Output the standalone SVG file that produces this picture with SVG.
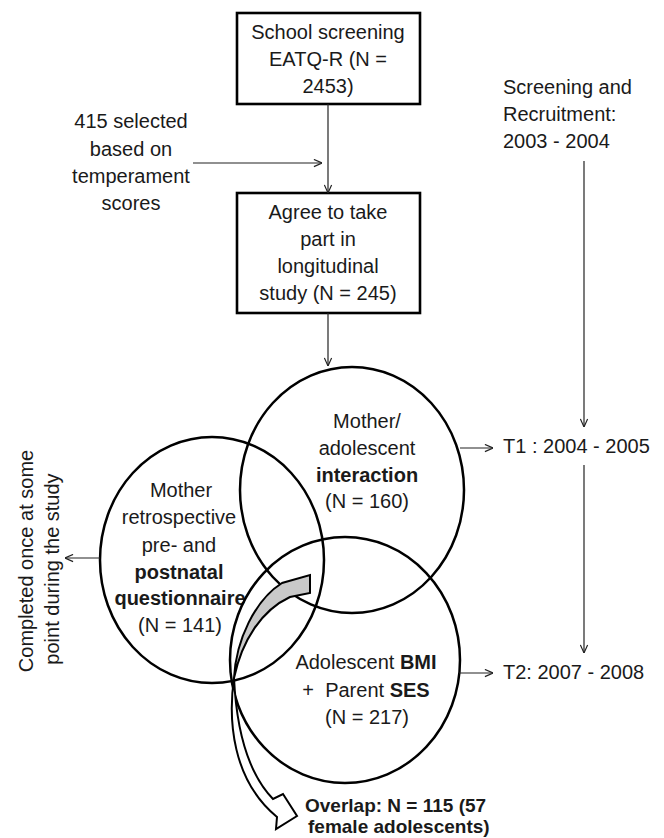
<svg xmlns="http://www.w3.org/2000/svg" width="664" height="838" viewBox="0 0 664 838">
<defs>
<style>
text{font-family:"Liberation Sans",Arial,sans-serif;font-size:20px;fill:#1a1a1a}
.c{text-anchor:middle}
.b{font-weight:bold}
.ov{font-weight:bold;font-size:19px}
.box{fill:#fff;stroke:#000;stroke-width:2.6}
.ell{fill:none;stroke:#000;stroke-width:2.5}
.con{fill:none;stroke:#222;stroke-width:1.2;marker-end:url(#arr)}
</style>
<marker id="arr" viewBox="0 0 10 10" refX="10" refY="5" markerWidth="9" markerHeight="9" markerUnits="userSpaceOnUse" orient="auto">
<path d="M1,1 L10,5 L1,9" fill="none" stroke="#222" stroke-width="1.3"/>
</marker>
</defs>
<rect width="664" height="838" fill="#fff"/>

<g id="circle-questionnaire">
<ellipse class="ell" cx="212" cy="560" rx="112" ry="123"/>
<text class="c" x="181" y="497">Mother</text>
<text class="c" x="179" y="524">retrospective</text>
<text class="c" x="179" y="552">pre- and</text>
<text class="c b" x="179" y="579">postnatal</text>
<text class="c b" x="180" y="605">questionnaire</text>
<text class="c" x="180" y="632">(N = 141)</text>
</g>

<g id="circle-interaction">
<ellipse class="ell" cx="352" cy="490" rx="112" ry="123"/>
<text class="c" x="367" y="428">Mother/</text>
<text class="c" x="367" y="455">adolescent</text>
<text class="c b" x="367" y="482">interaction</text>
<text class="c" x="367" y="508">(N = 160)</text>
</g>

<g id="circle-bmi">
<ellipse class="ell" cx="345" cy="660" rx="115" ry="123"/>
<text class="c" x="366" y="669">Adolescent <tspan class="b">BMI</tspan></text>
<text class="c" x="366" y="697" xml:space="preserve">+  Parent <tspan class="b">SES</tspan></text>
<text class="c" x="367" y="724">(N = 217)</text>
</g>

<g id="box-screening">
<rect class="box" x="237" y="13" width="183" height="91"/>
<text class="c" x="328" y="39">School screening</text>
<text class="c" x="328" y="66">EATQ-R (N =</text>
<text class="c" x="328" y="93">2453)</text>
</g>

<g id="box-agree">
<rect class="box" x="237" y="193" width="183" height="120"/>
<text class="c" x="328" y="219">Agree to take</text>
<text class="c" x="328" y="246">part in</text>
<text class="c" x="328" y="273">longitudinal</text>
<text class="c" x="328" y="300">study (N = 245)</text>
</g>

<g id="note-selected">
<text class="c" x="131" y="128">415 selected</text>
<text class="c" x="131" y="156">based on</text>
<text class="c" x="131" y="183">temperament</text>
<text class="c" x="131" y="210">scores</text>
</g>

<g id="note-recruitment">
<text x="503" y="94">Screening and</text>
<text x="503" y="121">Recruitment:</text>
<text x="503" y="148">2003 - 2004</text>
</g>

<g id="label-t1">
<text x="503" y="453">T1 : 2004 - 2005</text>
</g>

<g id="label-t2">
<text x="503" y="679">T2: 2007 - 2008</text>
</g>

<g id="label-completed">
<text class="c" x="33" y="561" transform="rotate(-90 33 561)">Completed once at some</text>
<text class="c" x="59" y="569" transform="rotate(-90 59 569)">point during the study</text>
</g>

<g id="connectors">
<line class="con" x1="328" y1="104" x2="328" y2="193"/>
<line class="con" x1="193" y1="163" x2="322" y2="163"/>
<line class="con" x1="328" y1="313" x2="328" y2="366"/>
<line class="con" x1="584" y1="161" x2="584" y2="427"/>
<line class="con" x1="584" y1="465" x2="584" y2="653"/>
<line class="con" x1="460" y1="448" x2="493" y2="448"/>
<line class="con" x1="459" y1="673" x2="493" y2="673"/>
<line class="con" x1="100" y1="558" x2="65" y2="558"/>
</g>

<g id="overlap-arrow">
<path d="M234 678 C236 640 255 600 282 583 L310 575 L310 593 L290 597 C262 610 242 640 234 678 Z" fill="#c9c9c9" stroke="#000" stroke-width="2"/>
<path d="M234 678 C228 720 232 780 277 817 L276 829 L297 816 L283 794 L273 799 C245 770 236 720 234 678 Z" fill="#fff" stroke="#000" stroke-width="2" stroke-linejoin="miter"/>
</g>

<g id="overlap-label">
<text class="ov" x="305" y="812">Overlap: N = 115 (57</text>
<text class="ov" x="308" y="833">female adolescents)</text>
</g>
</svg>
